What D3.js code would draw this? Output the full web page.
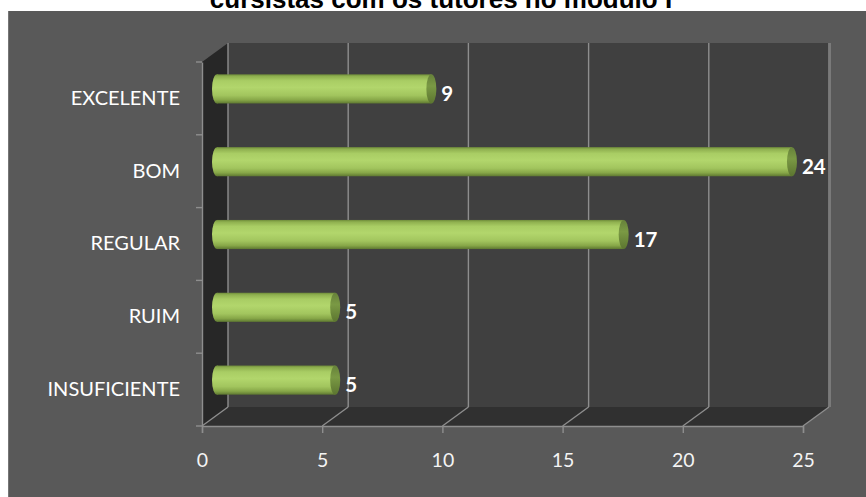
<!DOCTYPE html>
<html>
<head>
<meta charset="utf-8">
<script src="https://cdn.jsdelivr.net/npm/d3@7"></script>
<style>
  html, body { margin: 0; padding: 0; background: #ffffff; }
  svg { display: block; }
</style>
</head>
<body>
<div id="chart"></div>
<script>
// Ratings given by course participants to their tutors
const categories = ["EXCELENTE", "BOM", "REGULAR", "RUIM", "INSUFICIENTE"];
const values = [9, 24, 17, 5, 5];
const tickValues = [0, 5, 10, 15, 20, 25];
const titleText = "cursistas com os tutores no módulo I";

const W = 866, H = 497;
const svg = d3.select("#chart").append("svg").attr("width", W).attr("height", H);

// chart panel background
svg.append("rect").attr("x", 8).attr("y", 11).attr("width", W - 8).attr("height", H - 11)
  .attr("fill", "#595959");
svg.append("line").attr("x1", 8.5).attr("x2", 8.5).attr("y1", 11).attr("y2", H)
  .attr("stroke", "#767676").attr("stroke-width", 1);

// title (its upper part runs off the top edge)
svg.append("text").attr("x", 441).attr("y", 8)
  .attr("text-anchor", "middle")
  .attr("font-family", "'Liberation Sans', Arial, sans-serif")
  .attr("font-weight", "bold").attr("font-size", 26)
  .attr("fill", "#000").text(titleText);

// front plane scales; depth offset gives the 3-D box
const x = d3.scaleLinear().domain([0, 25]).range([202, 803]);
const y = d3.scaleBand().domain(categories).range([62, 426]).padding(0);
const DX = 26, DY = -19;
const x0 = x(0), x1 = x(25), yTop = y.range()[0], yBot = y.range()[1];

const defs = svg.append("defs");
const body = defs.append("linearGradient").attr("id", "barBody")
  .attr("x1", 0).attr("y1", 0).attr("x2", 0).attr("y2", 1);
[[0, "#6f8c3a"], [0.07, "#8fb04f"], [0.22, "#a9cd64"], [0.45, "#b2d66c"],
 [0.72, "#a2c55e"], [0.88, "#87a748"], [1, "#5e7831"]]
  .forEach(([o, c]) => body.append("stop").attr("offset", o).attr("stop-color", c));
const cap = defs.append("linearGradient").attr("id", "barCap")
  .attr("x1", 0).attr("y1", 0).attr("x2", 0).attr("y2", 1);
[[0, "#66813a"], [0.4, "#7a9944"], [1, "#5c7530"]]
  .forEach(([o, c]) => cap.append("stop").attr("offset", o).attr("stop-color", c));

// back wall
svg.append("rect").attr("x", x0 + DX).attr("y", yTop + DY)
  .attr("width", x1 - x0).attr("height", yBot - yTop).attr("fill", "#404040");
// side wall
svg.append("path").attr("fill", "#272727")
  .attr("d", `M${x0},${yTop}L${x0 + DX},${yTop + DY}L${x0 + DX},${yBot + DY}L${x0},${yBot}Z`);
// floor
svg.append("path").attr("fill", "#303030")
  .attr("d", `M${x0},${yBot}L${x1},${yBot}L${x1 + DX},${yBot + DY}L${x0 + DX},${yBot + DY}Z`);

const gridColor = "#8e8e8e";
// gridlines on back wall and floor
const grid = svg.append("g").attr("stroke", gridColor).attr("stroke-width", 1.4).attr("fill", "none");
tickValues.forEach(t => {
  grid.append("line").attr("x1", x(t) + DX).attr("x2", x(t) + DX)
    .attr("y1", yTop + DY).attr("y2", yBot + DY);
  grid.append("line").attr("x1", x(t)).attr("x2", x(t) + DX)
    .attr("y1", yBot).attr("y2", yBot + DY);
});
grid.append("line").attr("x1", x1 + DX + 1).attr("x2", x1 + DX + 1)
  .attr("y1", yTop + DY).attr("y2", yBot + DY).attr("stroke", "#7a7a7a").attr("stroke-width", 2);

// value axis along the front edge of the floor
const xAxis = svg.append("g").attr("transform", `translate(0,${yBot})`)
  .call(d3.axisBottom(x).tickValues(tickValues).tickSize(7).tickPadding(20).tickFormat(d3.format("d")));
xAxis.select(".domain").attr("stroke", gridColor).attr("stroke-width", 1.4);
xAxis.selectAll(".tick line").attr("stroke", gridColor).attr("stroke-width", 1.4);
xAxis.selectAll(".tick text").attr("fill", "#f4f4f4")
  .attr("font-family", "Lato, 'Open Sans', sans-serif").attr("font-size", 19.5);

// category axis on the front edge of the side wall
const yAxis = svg.append("g").attr("transform", `translate(${x0},0)`)
  .call(d3.axisLeft(y).tickSize(0).tickPadding(22));
yAxis.select(".domain").attr("stroke", gridColor).attr("stroke-width", 1.4);
yAxis.selectAll(".tick text").attr("fill", "#ffffff")
  .attr("font-family", "Lato, 'Open Sans', sans-serif").attr("font-size", 20);
const bounds = categories.map(c => y(c)).concat([yBot]);
svg.append("g").selectAll("line").data(bounds).join("line")
  .attr("x1", x0 - 6).attr("x2", x0).attr("y1", d => d).attr("y2", d => d)
  .attr("stroke", gridColor).attr("stroke-width", 1.4);

// cylinders, set halfway into the depth of the box
const data = categories.map((c, i) => ({ c, v: values[i] }));
const thick = y.bandwidth() * 0.4, r = thick / 2, mx = DX / 2, my = DY / 2;
const bars = svg.append("g").selectAll("g").data(data).join("g");
bars.append("ellipse")
  .attr("cx", d => x(0) + mx + 2).attr("cy", d => y(d.c) + y.bandwidth() / 2 + my)
  .attr("rx", 5).attr("ry", r).attr("fill", "url(#barBody)");
bars.append("rect")
  .attr("x", d => x(0) + mx + 2).attr("y", d => y(d.c) + y.bandwidth() / 2 + my - r)
  .attr("width", d => x(d.v) - x(0) - 2).attr("height", thick).attr("fill", "url(#barBody)");
bars.append("ellipse")
  .attr("cx", d => x(d.v) + mx).attr("cy", d => y(d.c) + y.bandwidth() / 2 + my)
  .attr("rx", 5).attr("ry", r).attr("fill", "url(#barCap)");

// value labels
bars.append("text")
  .attr("x", d => x(d.v) + mx + 10)
  .attr("y", d => y(d.c) + y.bandwidth() / 2 + my + 5)
  .attr("dy", "0.35em")
  .attr("fill", "#ffffff").attr("font-weight", "bold")
  .attr("font-family", "Lato, 'Open Sans', sans-serif").attr("font-size", 20.5)
  .text(d => d.v);
</script>
</body>
</html>
